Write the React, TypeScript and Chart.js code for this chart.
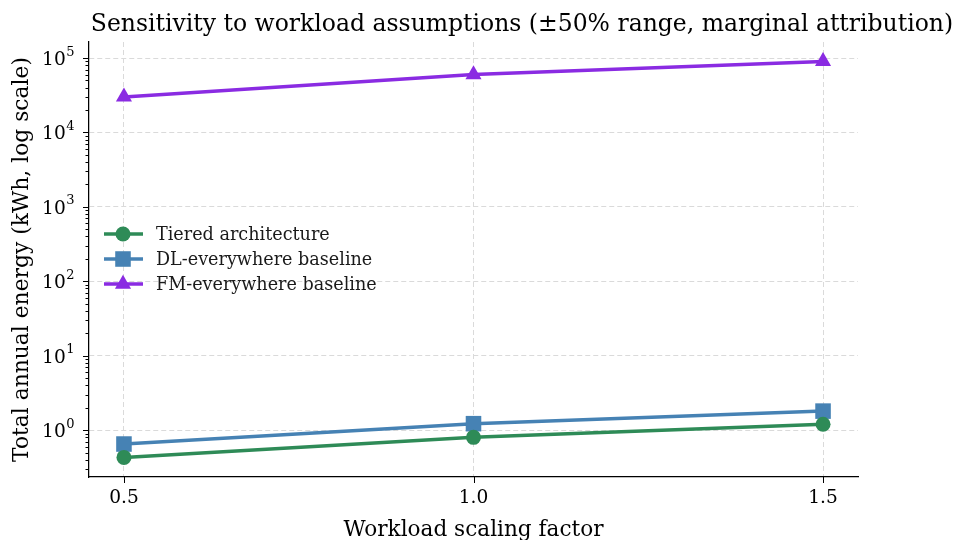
import React, { useEffect, useRef } from "react";
import { Chart, registerables } from "chart.js";

Chart.register(...registerables);

const workloadFactors = [0.5, 1.0, 1.5];
const tieredEnergy = [0.43, 0.8, 1.2];
const dlEnergy = [0.65, 1.22, 1.8];
const fmEnergy = [30000, 60000, 90000];
const xTickValues = [0.5, 1.0, 1.5];
const yMajorExponents = [0, 1, 2, 3, 4, 5];

const seriesNames = ["Tiered architecture", "DL-everywhere baseline", "FM-everywhere baseline"];
const seriesColors = ["#2e8b57", "#4682b4", "#8a2be2"];
const seriesMarkers = ["circle", "rect", "triangle"];
const markerRadii = [7.5, 11, 9.3];

const SERIF = "'DejaVu Serif', serif";

const toPoints = (ys: number[]) => workloadFactors.map((x, i) => ({ x, y: ys[i] }));

const mplPlugin = {
  id: "mplExtras",
  afterDraw(chart: any) {
    const { ctx, chartArea, scales } = chart;
    const xs = scales.x;
    const ys = scales.y;
    ctx.save();
    // ticks
    ctx.strokeStyle = "#000";
    ctx.lineWidth = 1;
    const lo = ys.min, hi = ys.max;
    for (let e = -2; e <= 6; e++) {
      for (let m = 1; m <= 9; m++) {
        const v = m * Math.pow(10, e);
        if (v < lo || v > hi) continue;
        const py = Math.round(ys.getPixelForValue(v)) + 0.5;
        const len = m === 1 ? 6 : 3.5;
        ctx.beginPath();
        ctx.moveTo(chartArea.left - len, py);
        ctx.lineTo(chartArea.left, py);
        ctx.stroke();
      }
    }
    xTickValues.forEach((v) => {
      const px = Math.round(xs.getPixelForValue(v)) + 0.5;
      ctx.beginPath();
      ctx.moveTo(px, chartArea.bottom);
      ctx.lineTo(px, chartArea.bottom + 6);
      ctx.stroke();
    });
    // y tick labels: 10^n
    ctx.fillStyle = "#000";
    ctx.textBaseline = "alphabetic";
    ctx.textAlign = "left";
    yMajorExponents.forEach((e) => {
      const py = ys.getPixelForValue(Math.pow(10, e));
      ctx.font = `13px ${SERIF}`;
      const expText = String(e);
      const expW = ctx.measureText(expText).width;
      ctx.font = `18.6px ${SERIF}`;
      const baseW = ctx.measureText("10").width;
      const right = chartArea.left - 15;
      const x0 = right - expW - baseW;
      ctx.fillText("10", x0, py + 7);
      ctx.font = `13px ${SERIF}`;
      ctx.fillText(expText, x0 + baseW + 0.5, py - 2.5);
    });
    // title
    ctx.font = `23.5px ${SERIF}`;
    ctx.textAlign = "center";
    ctx.fillText(
      "Sensitivity to workload assumptions (±50% range, marginal attribution)",
      522,
      31
    );
    // legend
    ctx.font = `17.6px ${SERIF}`;
    ctx.textAlign = "left";
    ctx.textBaseline = "middle";
    const lx0 = chartArea.left + 15;
    const lx1 = chartArea.left + 54;
    const mx = chartArea.left + 34;
    seriesNames.forEach((name, i) => {
      const ry = chartArea.top + 192 + i * 25;
      ctx.strokeStyle = seriesColors[i];
      ctx.lineWidth = 3.5;
      ctx.beginPath();
      ctx.moveTo(lx0, ry);
      ctx.lineTo(lx1, ry);
      ctx.stroke();
      ctx.fillStyle = seriesColors[i];
      ctx.beginPath();
      if (seriesMarkers[i] === "circle") {
        ctx.arc(mx, ry, markerRadii[i], 0, Math.PI * 2);
      } else if (seriesMarkers[i] === "rect") {
        const h = markerRadii[i] * Math.SQRT1_2;
        ctx.rect(mx - h, ry - h, 2 * h, 2 * h);
      } else {
        const r = markerRadii[i];
        ctx.moveTo(mx, ry - r);
        ctx.lineTo(mx + r * Math.cos(Math.PI / 6), ry + r * 0.5);
        ctx.lineTo(mx - r * Math.cos(Math.PI / 6), ry + r * 0.5);
        ctx.closePath();
      }
      ctx.fill();
      ctx.fillStyle = "#1a1a1a";
      ctx.fillText(name, chartArea.left + 67, ry + 1);
    });
    ctx.restore();
  },
};

export default function App() {
  const canvasRef = useRef<HTMLCanvasElement | null>(null);

  useEffect(() => {
    document.body.style.margin = "0";
    const canvas = canvasRef.current;
    if (!canvas) return;
    const chart = new Chart(canvas, {
      type: "line",
      data: {
        datasets: seriesNames.map((name, i) => ({
          label: name,
          data: toPoints([tieredEnergy, dlEnergy, fmEnergy][i]),
          borderColor: seriesColors[i],
          backgroundColor: seriesColors[i],
          borderWidth: 3.5,
          pointStyle: seriesMarkers[i] as any,
          pointRadius: markerRadii[i],
          pointBorderWidth: 0,
          pointHoverRadius: markerRadii[i],
          tension: 0,
        })),
      },
      options: {
        responsive: false,
        animation: false,
        events: [],
        layout: { padding: { top: 42, right: 98, left: 0, bottom: 0 } },
        plugins: {
          legend: { display: false },
          tooltip: { enabled: false },
          title: { display: false },
        },
        scales: {
          x: {
            type: "linear",
            min: 0.45,
            max: 1.55,
            afterBuildTicks: (scale: any) => {
              scale.ticks = xTickValues.map((v) => ({ value: v }));
            },
            afterFit: (scale: any) => {
              scale.height = 63;
            },
            ticks: {
              color: "#000",
              font: { family: SERIF, size: 18.6 },
              padding: 10,
              maxRotation: 0,
              callback: (v: any) => Number(v).toFixed(1),
            },
            grid: { color: "#dadada", lineWidth: 1, drawTicks: false },
            border: { display: true, color: "#000", width: 1.25, dash: [5, 3] },
            title: {
              display: true,
              text: "Workload scaling factor",
              color: "#000",
              font: { family: SERIF, size: 21.6 },
              padding: { top: 0, bottom: -3 },
            },
          },
          y: {
            type: "logarithmic",
            min: Math.pow(10, -0.63),
            max: Math.pow(10, 5.215),
            afterBuildTicks: (scale: any) => {
              scale.ticks = yMajorExponents.map((e) => ({ value: Math.pow(10, e) }));
            },
            afterFit: (scale: any) => {
              scale.width = 89;
            },
            ticks: {
              display: false,
            },
            grid: { color: "#dadada", lineWidth: 1, drawTicks: false },
            border: { display: true, color: "#000", width: 1.25, dash: [5, 3] },
            title: {
              display: true,
              text: "Total annual energy (kWh, log scale)",
              color: "#000",
              font: { family: SERIF, size: 21.8 },
              padding: { top: 9, bottom: 0 },
            },
          },
        },
      },
      plugins: [mplPlugin],
    });
    return () => chart.destroy();
  }, []);

  return (
    <div style={{ position: "fixed", left: 0, top: 0, width: 956, height: 540, background: "#fff" }}>
      <canvas ref={canvasRef} width={956} height={540} />
    </div>
  );
}
